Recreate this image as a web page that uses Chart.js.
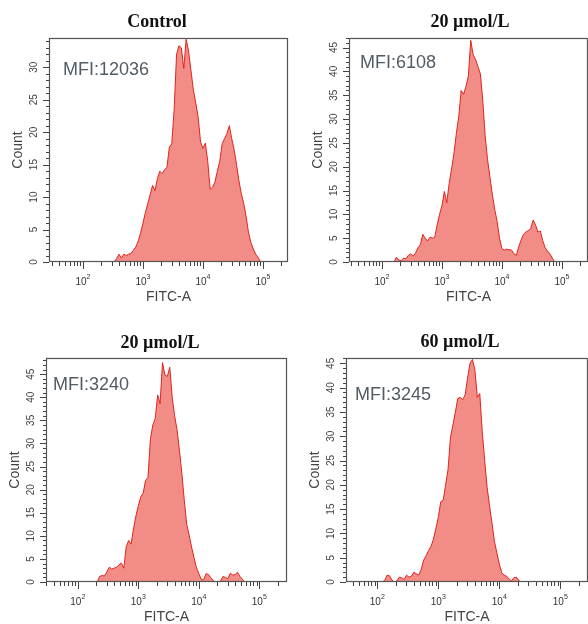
<!DOCTYPE html>
<html>
<head>
<meta charset="utf-8">
<script src="https://cdn.jsdelivr.net/npm/chart.js@4/dist/chart.umd.min.js"></script>
<style>
  html, body { margin: 0; padding: 0; background: #fff; }
  #wrap { position: relative; width: 588px; height: 624px; overflow: hidden; background: #fff; }
  #wrap canvas { position: absolute; left: 0; top: 0; }
</style>
</head>
<body>
<div id="wrap"></div>
<script>
// Histogram channel width, in decades of FITC-A intensity
const BIN_STEP = 0.04;

const titles = ['Control', '20 µmol/L', '20 µmol/L', '60 µmol/L'];
const mfiLabels = ['MFI:12036', 'MFI:6108', 'MFI:3240', 'MFI:3245'];
const xTickExponents = [2, 3, 4, 5];

// log10 of the first channel of each histogram
const binStartExp = [2.52, 2.20, 2.32, 2.08];

// Cell counts per channel
const countsControl = [0, 0.5, 1.2, 0.6, 1.2, 1.0, 1.2, 1.3, 1.8, 2.3, 3.2, 4.5, 6.0, 7.6, 9.0, 10.4,
  11.8, 11.0, 12.8, 14.0, 13.6, 14.2, 14.6, 17.7, 18.2, 23.5, 32.0, 33.3, 33.0, 29.8, 34.3, 32.5,
  29.5, 26.5, 24.5, 22.3, 18.5, 17.5, 18.3, 15.5, 11.2, 11.5, 12.3, 14.0, 15.5, 18.2, 19.0, 19.8,
  21.0, 19.0, 17.3, 15.0, 12.5, 10.5, 9.0, 7.0, 4.5, 3.0, 2.0, 1.2, 0.7, 0];
const counts20a = [0, 1.0, 0.4, 0.3, 0.8, 0.7, 1.4, 1.7, 1.2, 1.9, 3.0, 3.6, 5.8, 5.0, 4.4, 5.2,
  5.0, 5.2, 7.8, 10.0, 11.8, 14.8, 12.4, 16.5, 19.5, 22.8, 27.0, 30.5, 36.0, 35.2, 36.8, 39.0,
  46.5, 43.5, 42.5, 41.0, 39.5, 34.0, 26.5, 21.5, 17.8, 14.2, 11.0, 8.5, 5.0, 2.8, 2.5, 2.7,
  2.6, 2.5, 1.7, 1.4, 3.2, 4.6, 5.8, 6.3, 6.6, 7.0, 8.8, 7.8, 6.3, 6.5, 4.5, 3.0, 2.3, 1.7, 0.8, 0];
const counts20b = [0, 1.2, 1.4, 1.3, 2.2, 3.2, 2.8, 3.0, 3.2, 3.7, 4.1, 3.0, 7.6, 9.0, 8.2, 11.5,
  14.3, 16.5, 18.4, 19.2, 22.0, 22.6, 31.0, 34.0, 35.4, 40.5, 38.6, 47.5, 44.8, 44.5, 46.5, 40.0,
  36.0, 33.0, 28.5, 23.5, 17.7, 12.5, 10.2, 7.6, 5.3, 3.2, 1.8, 0.6, 0.5, 1.8, 1.6, 0.9,
  0.3, 0, 0, 0.2, 1.2, 1.0, 0.7, 1.9, 1.5, 1.6, 2.1, 1.2, 0.6, 0];
const counts60 = [0, 0.3, 1.4, 1.3, 0.4, 0, 0.2, 1.0, 0.9, 0.5, 1.4, 1.0, 1.2, 2.0, 1.7, 1.4,
  2.6, 4.5, 5.4, 6.5, 7.3, 8.8, 11.0, 13.3, 16.5, 16.8, 20.0, 23.2, 29.8, 32.3, 35.0, 37.8,
  38.0, 37.5, 38.5, 42.0, 45.0, 45.8, 43.6, 38.0, 38.8, 31.0, 25.0, 19.5, 15.7, 12.2, 8.4, 6.0,
  3.7, 1.9, 1.4, 1.2, 0.6, 0.2, 0.9, 1.0, 0.3, 0];

const seriesCounts = [countsControl, counts20a, counts20b, counts60];

// Page placement of each panel's plot box and its axis ranges
const panelLayout = [
  { l: 49,  t: 38,  r: 288, b: 262, xMinExp: 1.433, xMaxExp: 5.418, yMax: 34.5, titleX: 157, titleY: 22,  mfiX: 63,  mfiY: 70 },
  { l: 349, t: 38,  r: 588, b: 262, xMinExp: 1.450, xMaxExp: 5.435, yMax: 47.0, titleX: 470, titleY: 22,  mfiX: 360, mfiY: 63 },
  { l: 46,  t: 358, r: 287, b: 582, xMinExp: 1.474, xMaxExp: 5.458, yMax: 48.5, titleX: 160, titleY: 343, mfiX: 53,  mfiY: 385 },
  { l: 346, t: 358, r: 588, b: 582, xMinExp: 1.487, xMaxExp: 5.454, yMax: 46.1, titleX: 460, titleY: 342, mfiX: 355, mfiY: 395 }
];

const SANS = '"Liberation Sans", Arial, sans-serif';
const SERIF = '"Liberation Serif", "Times New Roman", serif';

// Flow-cytometry style frame, log ticks, rotated count labels and annotations
const facsAxes = {
  id: 'facsAxes',
  afterDatasetsDraw(chart, args, opts) {
    const { ctx, chartArea: a, scales: { x, y } } = chart;
    ctx.save();

    // plot frame
    ctx.strokeStyle = '#555';
    ctx.lineWidth = 1.2;
    ctx.strokeRect(a.left + 0.5, a.top + 0.5, a.right - a.left - 1, a.bottom - a.top - 1);

    // y ticks: minor every count, major every 5
    ctx.lineWidth = 1;
    ctx.strokeStyle = '#444';
    ctx.beginPath();
    for (let v = 0; v <= y.max; v++) {
      const py = Math.round(y.getPixelForValue(v)) + 0.5;
      const len = v % 5 === 0 ? 6 : 3;
      ctx.moveTo(a.left, py);
      ctx.lineTo(a.left - len, py);
    }
    // x ticks: log decades with 2..9 minors
    for (let n = 1; n <= 5; n++) {
      for (let k = 1; k <= 9; k++) {
        const val = k * Math.pow(10, n);
        if (val < x.min || val > x.max) continue;
        const px = Math.round(x.getPixelForValue(val)) + 0.5;
        const len = k === 1 ? 7 : 4;
        ctx.moveTo(px, a.bottom);
        ctx.lineTo(px, a.bottom + len);
      }
    }
    ctx.stroke();

    // y tick labels, rotated
    ctx.fillStyle = '#444';
    ctx.font = '10px ' + SANS;
    ctx.textAlign = 'center';
    ctx.textBaseline = 'middle';
    for (let v = 0; v <= y.max; v += 5) {
      const py = y.getPixelForValue(v);
      ctx.save();
      ctx.translate(a.left - 15, py);
      ctx.rotate(-Math.PI / 2);
      ctx.fillText(String(v), 0, 0);
      ctx.restore();
    }

    // x tick labels 10^n
    ctx.fillStyle = '#333';
    xTickExponents.forEach(e => {
      const px = x.getPixelForValue(Math.pow(10, e));
      ctx.font = '10px ' + SANS;
      const w1 = ctx.measureText('10').width;
      ctx.font = '7px ' + SANS;
      const w2 = ctx.measureText(String(e)).width;
      const x0 = px - (w1 + w2) / 2;
      ctx.textAlign = 'left';
      ctx.font = '10px ' + SANS;
      ctx.fillText('10', x0, a.bottom + 20);
      ctx.font = '7px ' + SANS;
      ctx.fillText(String(e), x0 + w1, a.bottom + 15);
    });

    // axis titles
    ctx.fillStyle = '#444';
    ctx.font = '14px ' + SANS;
    ctx.textAlign = 'center';
    ctx.fillText('FITC-A', (a.left + a.right) / 2, a.bottom + 35);
    ctx.save();
    ctx.translate(a.left - 31, (a.top + a.bottom) / 2);
    ctx.rotate(-Math.PI / 2);
    ctx.fillText('Count', 0, 0);
    ctx.restore();

    // panel title
    ctx.fillStyle = '#111';
    ctx.font = 'bold 18px ' + SERIF;
    ctx.fillText(opts.title, opts.titleX, opts.titleY);

    // MFI annotation
    ctx.fillStyle = '#525c64';
    ctx.font = '18px ' + SANS;
    ctx.textAlign = 'left';
    ctx.fillText(opts.mfi, opts.mfiX, opts.mfiY);

    ctx.restore();
  }
};

const wrap = document.getElementById('wrap');

panelLayout.forEach((p, idx) => {
  const canvas = document.createElement('canvas');
  canvas.width = 588;
  canvas.height = 624;
  canvas.style.width = '588px';
  canvas.style.height = '624px';
  wrap.appendChild(canvas);

  const points = seriesCounts[idx].map((c, i) => ({
    x: Math.pow(10, binStartExp[idx] + i * BIN_STEP),
    y: c
  }));

  new Chart(canvas, {
    type: 'line',
    data: {
      datasets: [{
        data: points,
        fill: 'origin',
        backgroundColor: '#f18c87',
        borderColor: '#e2231d',
        borderWidth: 1,
        pointRadius: 0,
        tension: 0
      }]
    },
    options: {
      responsive: false,
      animation: false,
      devicePixelRatio: 1,
      events: [],
      layout: { padding: { left: p.l, top: p.t, right: 588 - p.r, bottom: 624 - p.b } },
      scales: {
        x: { type: 'logarithmic', min: Math.pow(10, p.xMinExp), max: Math.pow(10, p.xMaxExp), display: false },
        y: { type: 'linear', min: 0, max: p.yMax, display: false }
      },
      plugins: {
        legend: { display: false },
        tooltip: { enabled: false },
        facsAxes: { title: titles[idx], mfi: mfiLabels[idx], titleX: p.titleX, titleY: p.titleY, mfiX: p.mfiX, mfiY: p.mfiY }
      }
    },
    plugins: [facsAxes]
  });
});
</script>
</body>
</html>
